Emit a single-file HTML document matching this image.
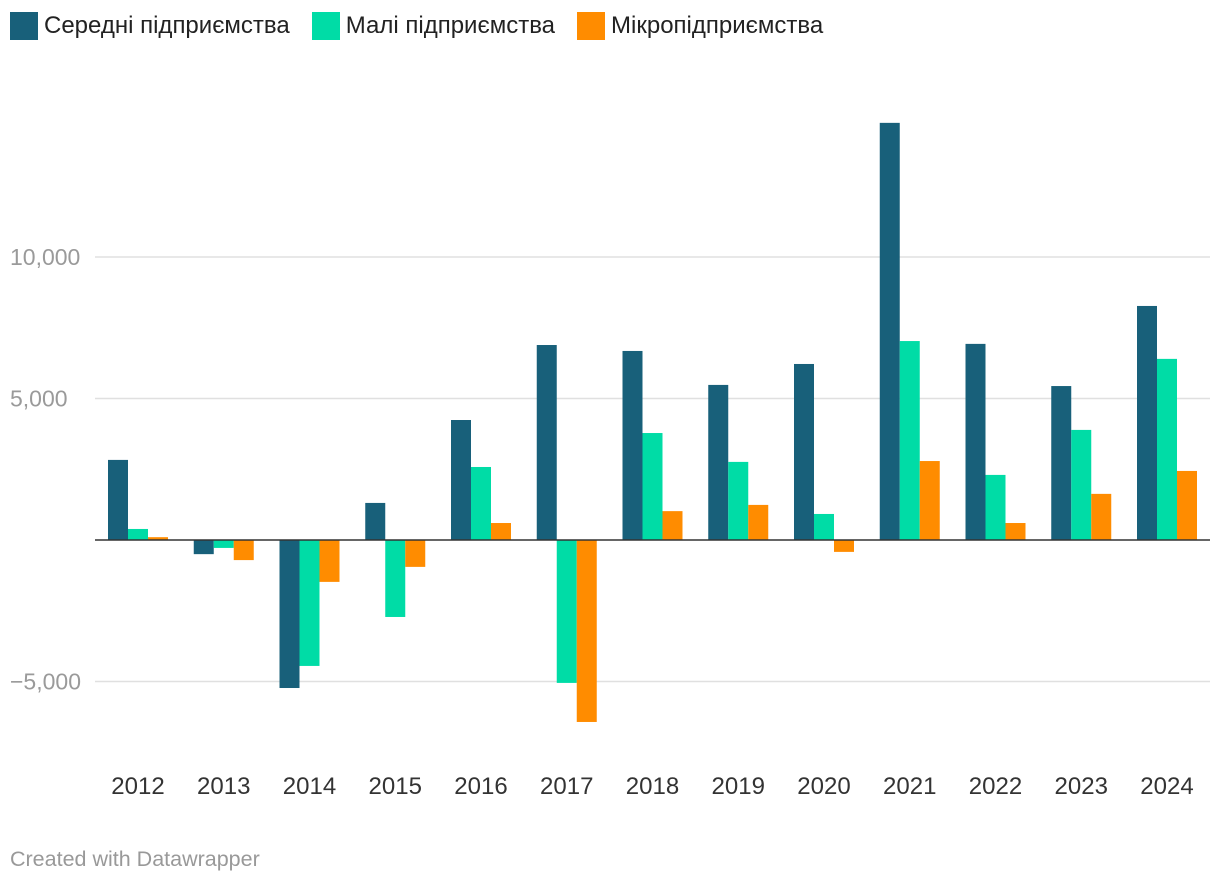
<!DOCTYPE html>
<html><head><meta charset="utf-8"><style>
body{margin:0;background:#fff;width:1220px;height:882px;overflow:hidden;font-family:"Liberation Sans",sans-serif}
.leg{position:absolute;top:12px;left:10px;display:flex;font-size:24px;color:#222}
.li{display:flex;align-items:center;margin-right:22px}
.sw{width:28px;height:28px;margin-right:6px}
</style></head><body>
<div class="leg">
<div class="li"><div class="sw" style="background:#18607a"></div>Середні підприємства</div>
<div class="li"><div class="sw" style="background:#00dca6"></div>Малі підприємства</div>
<div class="li"><div class="sw" style="background:#ff8c00"></div>Мікропідприємства</div>
</div>
<svg id="chart" width="1220" height="882" style="position:absolute;left:0;top:0"></svg>
<script>
const categories=["2012","2013","2014","2015","2016","2017","2018","2019","2020","2021","2022","2023","2024"];
const medium=[2830,-500,-5230,1310,4240,6890,6680,5480,6220,14740,6930,5440,8270];
const small=[390,-280,-4450,-2720,2580,-5050,3780,2760,920,7030,2300,3890,6400];
const micro=[100,-710,-1480,-950,600,-6430,1020,1240,-420,2790,600,1630,2440];
const ticks=[-5000,5000,10000];
const tickLabels=["−5,000","5,000","10,000"];
const series=[medium,small,micro];
const colors=["#18607a","#00dca6","#ff8c00"];
const names=["bar-medium","bar-small","bar-micro"];
const svg=document.getElementById('chart');
const NS="http://www.w3.org/2000/svg";
const y=v=>540-v*0.02830;
const x=i=>138+i*85.75;
function mk(t,a){const e=document.createElementNS(NS,t);for(const k in a)e.setAttribute(k,a[k]);svg.appendChild(e);return e;}
ticks.forEach((t,i)=>{
 const l=mk('line',{x1:95,x2:1210,y1:y(t),y2:y(t),stroke:'#e0e0e0','stroke-width':1.5});
 
 
 const tx=mk('text',{x:10,y:y(t)+8,fill:'#9a9a9a','font-size':23,'font-family':'Liberation Sans, sans-serif'});
 tx.textContent=tickLabels[i];
 
 
});
series.forEach((s,j)=>s.forEach((v,i)=>{
 const x0=x(i)-30+j*20;
 const r=mk('rect',{x:x0,width:20,y:Math.min(y(v),540),height:Math.abs(y(v)-540),fill:colors[j]});
 
 
}));
const z=mk('line',{x1:95,x2:1210,y1:540,y2:540,stroke:'#333','stroke-width':1.5});


categories.forEach((c,i)=>{
 const t=mk('text',{x:x(i),y:794,'text-anchor':'middle',fill:'#333','font-size':24,'font-family':'Liberation Sans, sans-serif'});
 t.textContent=c;
 
 
});
const f=mk('text',{x:10,y:866,fill:'#999','font-size':21.5,'font-family':'Liberation Sans, sans-serif'});
f.textContent='Created with Datawrapper';


</script>
</body></html>
